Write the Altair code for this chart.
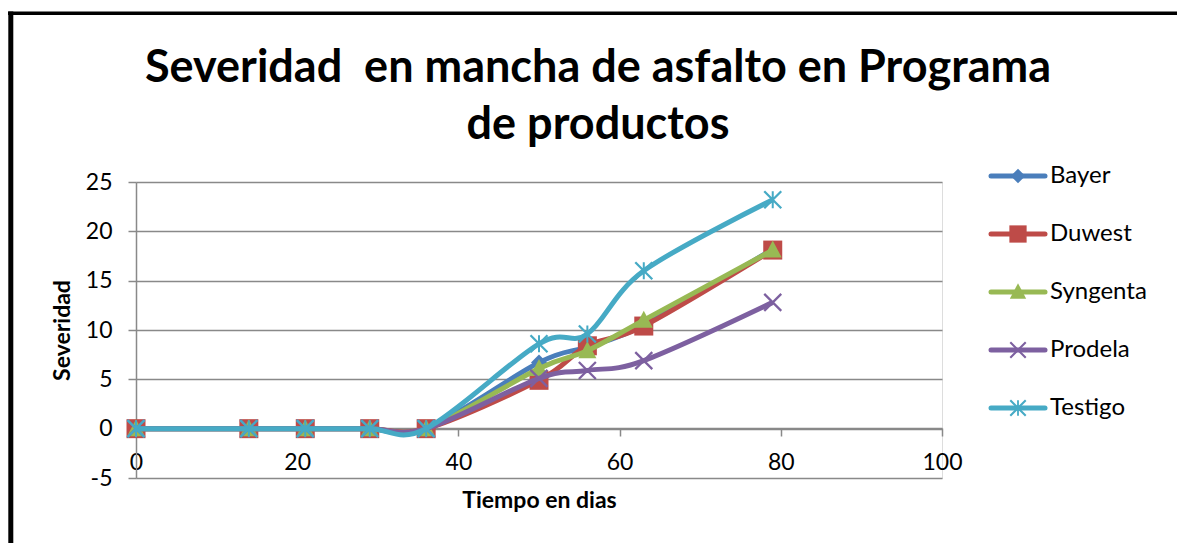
import altair as alt
import pandas as pd

# ---- data ----
dias = [0, 14, 21, 29, 36, 50, 56, 63, 79]
series_names = ["Bayer", "Duwest", "Syngenta", "Prodela", "Testigo"]
bayer = [0, 0, 0, 0, 0, 6.7, 8.3, 10.5, 18.2]
duwest = [0, 0, 0, 0, 0, 4.9, 8.4, 10.4, 18.1]
syngenta = [0, 0, 0, 0, 0, 6.1, 7.9, 11.0, 18.1]
prodela = [0, 0, 0, 0, 0, 5.1, 5.9, 6.9, 12.8]
testigo = [0, 0, 0, 0, 0, 8.6, 9.6, 16.0, 23.2]
y_ticks = [-5, 0, 5, 10, 15, 20, 25]
x_ticks = [0, 20, 40, 60, 80, 100]
title_lines = ["Severidad\u00a0 en mancha de asfalto en Programa", "de productos"]
x_title = "Tiempo en dias"
y_title = "Severidad"

colors = ["#4A7EBB", "#BE4B48", "#98B954", "#7D60A0", "#46AAC5"]

# marker shapes (filled paths, unit = sqrt(size)/2 px)
diamond = "M0,-0.8L0.8,0L0,0.8L-0.8,0Z"
square = "M-0.95,-0.95L0.95,-0.95L0.95,0.95L-0.95,0.95Z"
triangle = "M0,-0.95L0.9,0.75L-0.9,0.75Z"
xbar = ("M-0.77,-0.93L0.93,0.77L0.77,0.93L-0.93,-0.77Z"
        "M-0.93,0.77L0.77,-0.93L0.93,-0.77L-0.77,0.93Z")
star = xbar + "M0.1,-0.85L0.1,0.85L-0.1,0.85L-0.1,-0.85Z"
shapes = [diamond, square, triangle, xbar, star]

values = [bayer, duwest, syngenta, prodela, testigo]
rows = []
for name, vals in zip(series_names, values):
    for d, v in zip(dias, vals):
        rows.append({"dia": d, "severidad": v, "serie": name})
df = pd.DataFrame(rows)
legend_df = pd.DataFrame({"serie": series_names})
one = pd.DataFrame({"k": [0]})

FONT = "Lato"
GRID = "#898989"
MINUS = "replace(datum.label, '\u2212', '-')"

color_scale = alt.Scale(domain=series_names, range=colors)
shape_scale = alt.Scale(domain=series_names, range=shapes)

x_enc = alt.X(
    "dia:Q",
    scale=alt.Scale(domain=[0, 100], nice=False, zero=False),
    axis=alt.Axis(
        values=x_ticks, grid=False, offset=-50, tickSize=8, tickColor=GRID,
        tickWidth=1.5, domainColor=GRID, domainWidth=1.5, labelFlush=False,
        labelFontSize=23, labelPadding=15, labelColor="#000000", labelFont=FONT,
        title=x_title, titleFontSize=23, titleFontWeight="bold", titleFont=FONT,
        titleColor="#000000", titleY=72, titleBaseline="middle",
    ),
)
y_enc = alt.Y(
    "severidad:Q",
    scale=alt.Scale(domain=[-5, 25], nice=False, zero=False),
    axis=alt.Axis(
        values=y_ticks, grid=True, gridColor=GRID, gridWidth=1.5,
        tickSize=8, tickColor=GRID, tickWidth=1.5, domainColor=GRID,
        domainWidth=1.5, labelFontSize=23, labelPadding=16, labelColor="#000000",
        labelFont=FONT, labelExpr=MINUS, title=y_title, titleFontSize=23,
        titleFontWeight="bold", titleFont=FONT, titleColor="#000000",
        titleX=-74, titleY=148, titleAngle=270, titleBaseline="middle",
        titleAlign="center",
    ),
)

layers = []
for i, name in enumerate(series_names):
    base = alt.Chart(df).transform_filter(alt.datum.serie == name)
    line = base.mark_line(interpolate="cardinal", strokeWidth=5).encode(
        x=x_enc if i == 0 else alt.X("dia:Q"),
        y=y_enc if i == 0 else alt.Y("severidad:Q"),
        color=alt.Color("serie:N", scale=color_scale, legend=None),
        order=alt.Order("dia:Q"),
    )
    pts = base.mark_point(filled=True, opacity=1, size=400, strokeWidth=0).encode(
        x=alt.X("dia:Q"),
        y=alt.Y("severidad:Q"),
        color=alt.Color("serie:N", scale=color_scale, legend=None),
        shape=alt.Shape("serie:N", scale=shape_scale, legend=None),
    )
    layers += [line, pts]

main = alt.layer(*layers)

# legend built from the series list (point scale keeps its 0.5 outer padding)
leg_y = alt.Y("serie:N", scale=alt.Scale(domain=series_names, range=[-35, 255]),
              axis=None)
leg_base = alt.Chart(legend_df)
leg_line = leg_base.mark_rule(strokeWidth=5, strokeCap="round").encode(
    x=alt.value(855), x2=alt.value(909), y=leg_y,
    color=alt.Color("serie:N", scale=color_scale, legend=None),
)
leg_pt = leg_base.mark_point(filled=True, opacity=1, size=330, strokeWidth=0).encode(
    x=alt.value(882), y=leg_y,
    color=alt.Color("serie:N", scale=color_scale, legend=None),
    shape=alt.Shape("serie:N", scale=shape_scale, legend=None),
)
leg_txt = leg_base.mark_text(align="left", baseline="middle", fontSize=24, font=FONT,
                             color="#000000").encode(
    x=alt.value(914), y=leg_y, text="serie:N",
)
legend = alt.layer(leg_line, leg_pt, leg_txt)

title = alt.Chart(one).mark_text(
    align="center", baseline="alphabetic", fontSize=45, fontWeight="bold",
    font=FONT, lineHeight=57, color="#000000",
).encode(x=alt.value(462), y=alt.value(-100), text=alt.value(title_lines))

frame_top = alt.Chart(one).mark_rule(color="#000000", strokeWidth=3.5).encode(
    x=alt.value(-128), x2=alt.value(1041), y=alt.value(-168.7))
frame_left = alt.Chart(one).mark_rule(color="#000000", strokeWidth=5).encode(
    x=alt.value(-125.2), y=alt.value(-170.5), y2=alt.value(361))

chart = alt.layer(main, legend, title, frame_top, frame_left).resolve_scale(
    y="independent"
).properties(
    width=806, height=296,
    autosize=alt.AutoSizeParams(type="none"),
    padding={"left": 136, "top": 182, "right": 235, "bottom": 65},
    background="#ffffff",
).configure_view(stroke=None).configure(font=FONT)

chart.save("out.html", embed_options={"renderer": "svg", "actions": False})
